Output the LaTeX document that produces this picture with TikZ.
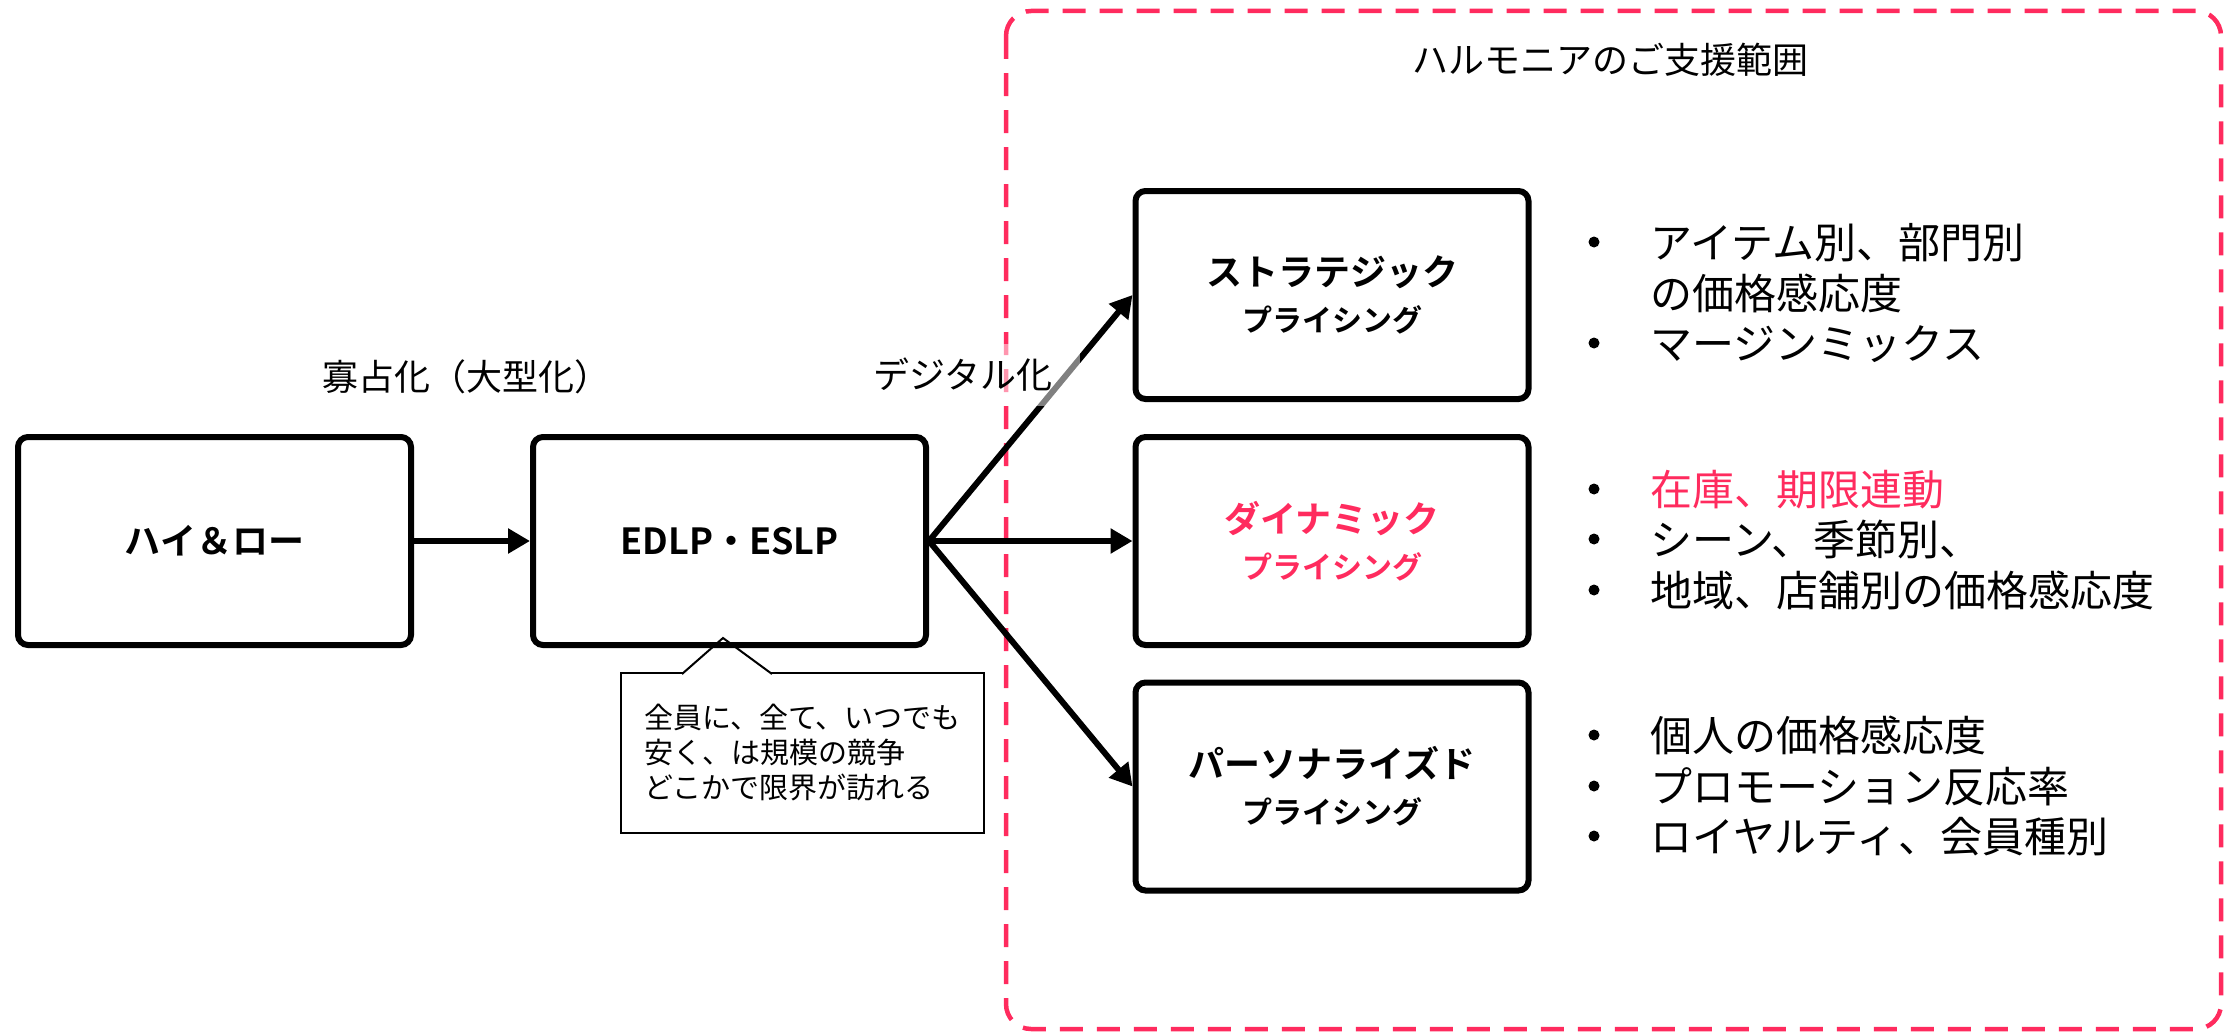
\documentclass[tikz,border=0pt]{standalone}
\usepackage{fontspec}
\setmainfont{Noto Sans CJK JP}[BoldFont={* Bold}]
\usetikzlibrary{arrows.meta}
\definecolor{hpink}{HTML}{FF2B5E}
\begin{document}
\begin{tikzpicture}[x=1pt,y=-1pt,
  mainbox/.style={draw, line width=6pt, rounded corners=10pt, minimum width=393pt,
    minimum height=208pt, inner sep=0pt, align=center,
    font=\bfseries\fontsize{36pt}{46pt}\selectfont},
  arr/.style={line width=6pt, -{Triangle[length=22pt,width=24pt]}},
  lbl/.style={inner sep=0pt, font=\fontsize{36pt}{44pt}\selectfont},
  item/.style={anchor=west, inner sep=0pt, font=\fontsize{42pt}{50pt}\selectfont,
    text height=35pt, text depth=3pt},
  dot/.style={circle, fill=black, draw=none, inner sep=0pt, minimum size=11pt},
]
\useasboundingbox (0,0) rectangle (2234,1033);

% support range
\draw[hpink, line width=4.5pt, dash pattern=on 23pt off 14pt, rounded corners=25pt]
  (1006,11) rectangle (2221,1029);
\node[lbl] (title) at (1610,60) {ハルモニアのご支援範囲};

% callout
\node[draw, line width=2pt, minimum width=363pt, minimum height=160pt, inner sep=0pt,
  align=left, font=\fontsize{29pt}{35pt}\selectfont] (note) at (802.5,753)
  {全員に、全て、いつでも\\安く、は規模の競争\\どこかで限界が訪れる};
\coordinate (tip) at (723,638);
\filldraw[fill=white, line width=2pt] (682,674) -- (tip) -- (772,674);

% boxes
\node[mainbox] (hl) at (214.5,541) {ハイ＆ロー};
\node[mainbox] (edlp) at (729.5,541) {EDLP・ESLP};
\node[mainbox] (st) at (1332,295) {ストラテジック\\{\fontsize{30pt}{46pt}\selectfont プライシング}};
\node[mainbox, text=hpink] (dy) at (1332,541) {ダイナミック\\{\fontsize{30pt}{46pt}\selectfont プライシング}};
\node[mainbox] (ps) at (1332,786.5) {パーソナライズド\\{\fontsize{30pt}{46pt}\selectfont プライシング}};

% arrows
\draw[arr] (hl) -- (edlp);
\draw[arr] (edlp.east) -- (st.west);
\draw[arr] (edlp.east) -- (dy.west);
\draw[arr] (edlp.east) -- (ps.west);

% labels
\node[lbl] (olig) at (466,377) {寡占化（大型化）};
\node[lbl, fill=white, fill opacity=0.5, text opacity=1, inner xsep=27pt, inner ysep=14pt]
  (dig) at (963,375) {デジタル化};

% bullet lists
\node[dot] (b1) at (1594,242) {};
\node[item] (t1) at (1650,242) {アイテム別、部門別};
\node[item] (t1b) at (1650,293) {の価格感応度};
\node[dot] (b2) at (1594,343) {};
\node[item] (t2) at (1650,343) {マージンミックス};

\node[dot] (b3) at (1594,489) {};
\node[item, text=hpink] (t3) at (1650,489) {在庫、期限連動};
\node[dot] (b4) at (1594,539) {};
\node[item] (t4) at (1650,539) {シーン、季節別、};
\node[dot] (b5) at (1594,590) {};
\node[item] (t5) at (1650,590) {地域、店舗別の価格感応度};

\node[dot] (b6) at (1594,735) {};
\node[item] (t6) at (1650,735) {個人の価格感応度};
\node[dot] (b7) at (1594,786) {};
\node[item] (t7) at (1650,786) {プロモーション反応率};
\node[dot] (b8) at (1594,836) {};
\node[item] (t8) at (1650,836) {ロイヤルティ、会員種別};
\end{tikzpicture}
\end{document}
